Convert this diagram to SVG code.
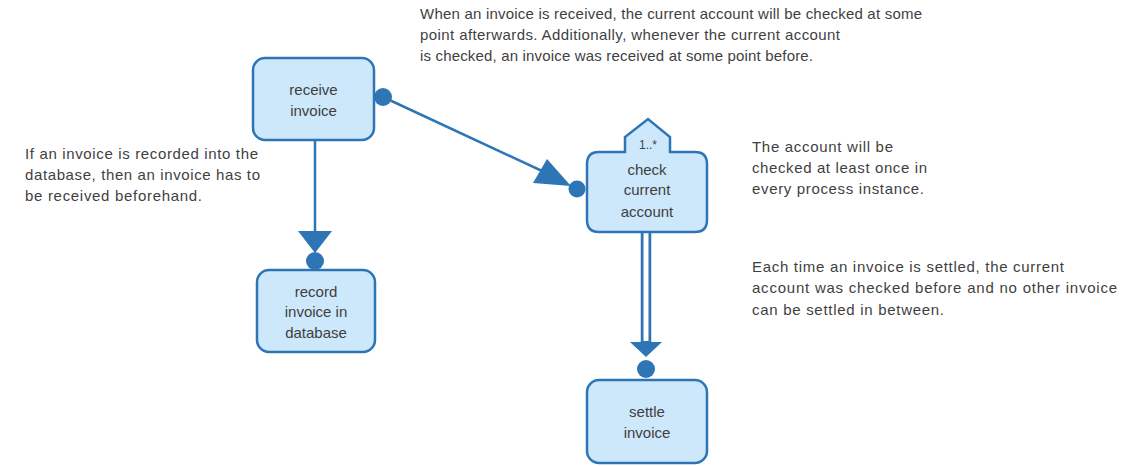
<svg xmlns="http://www.w3.org/2000/svg" width="1143" height="466" viewBox="0 0 1143 466">
<style>
.box{fill:#cde8fb;stroke:#2e75b6;stroke-width:2.5}
.lbl{font-family:"Liberation Sans",Arial,sans-serif;font-size:15px;fill:#3f3f3f;text-anchor:middle}
.note{font-family:"Liberation Sans",Arial,sans-serif;font-size:15px;fill:#3f3f3f}
.ln{stroke:#2e75b6;stroke-width:2.5;fill:none}
.hd{fill:#2e75b6;stroke:none}
</style>
<rect width="1143" height="466" fill="#ffffff"/>
<g id="connectors">
  <line class="ln" x1="383" y1="97" x2="555" y2="177"/>
  <polygon class="hd" points="533,183 547,159 571,186"/>
  <circle class="hd" cx="383" cy="97" r="9"/>
  <circle class="hd" cx="577" cy="189" r="8.5"/>
  <line class="ln" x1="315" y1="140" x2="315" y2="232"/>
  <polygon class="hd" points="298,231 332,231 315,253"/>
  <circle class="hd" cx="315" cy="261" r="9"/>
  <line x1="646" y1="232" x2="646" y2="343" stroke="#2e75b6" stroke-width="10.5"/>
  <line x1="646" y1="232" x2="646" y2="341" stroke="#ffffff" stroke-width="5"/>
  <polygon class="hd" points="630,342 662,342 646,357"/>
  <circle class="hd" cx="646" cy="369" r="9"/>
</g>
<g id="receive-invoice">
  <rect class="box" x="253" y="58" width="121" height="82" rx="12"/>
  <text class="lbl" x="313.5" y="95">receive</text>
  <text class="lbl" x="313.5" y="116">invoice</text>
</g>
<g id="record-invoice">
  <rect class="box" x="257" y="270" width="118" height="82" rx="12"/>
  <text class="lbl" x="316" y="297">record</text>
  <text class="lbl" x="316" y="317">invoice in</text>
  <text class="lbl" x="316" y="338">database</text>
</g>
<g id="check-current-account">
  <path class="box" d="M599,152 H625 V137 L648,119 L670,137 V152 H695 Q707,152 707,164 V220 Q707,232 695,232 H599 Q587,232 587,220 V164 Q587,152 599,152 Z"/>
  <text class="lbl" x="648" y="149" style="font-size:12px">1..*</text>
  <text class="lbl" x="647" y="175">check</text>
  <text class="lbl" x="647" y="195">current</text>
  <text class="lbl" x="647" y="217">account</text>
</g>
<g id="settle-invoice">
  <rect class="box" x="587" y="380" width="120" height="83" rx="12"/>
  <text class="lbl" x="647" y="417">settle</text>
  <text class="lbl" x="647" y="438">invoice</text>
</g>
<g id="notes">
  <text class="note" x="420" y="19" textLength="502">When an invoice is received, the current account will be checked at some</text>
  <text class="note" x="420" y="40" textLength="420">point afterwards. Additionally, whenever the current account</text>
  <text class="note" x="420" y="61" textLength="393">is checked, an invoice was received at some point before.</text>
  <text class="note" x="25" y="159" textLength="233">If an invoice is recorded into the</text>
  <text class="note" x="25" y="180" textLength="235">database, then an invoice has to</text>
  <text class="note" x="25" y="201" textLength="177">be received beforehand.</text>
  <text class="note" x="752" y="152" textLength="141">The account will be</text>
  <text class="note" x="752" y="173" textLength="175">checked at least once in</text>
  <text class="note" x="752" y="194" textLength="172">every process instance.</text>
  <text class="note" x="752" y="272" textLength="312">Each time an invoice is settled, the current</text>
  <text class="note" x="752" y="293" textLength="365">account was checked before and no other invoice</text>
  <text class="note" x="752" y="315" textLength="192">can be settled in between.</text>
</g>
</svg>
